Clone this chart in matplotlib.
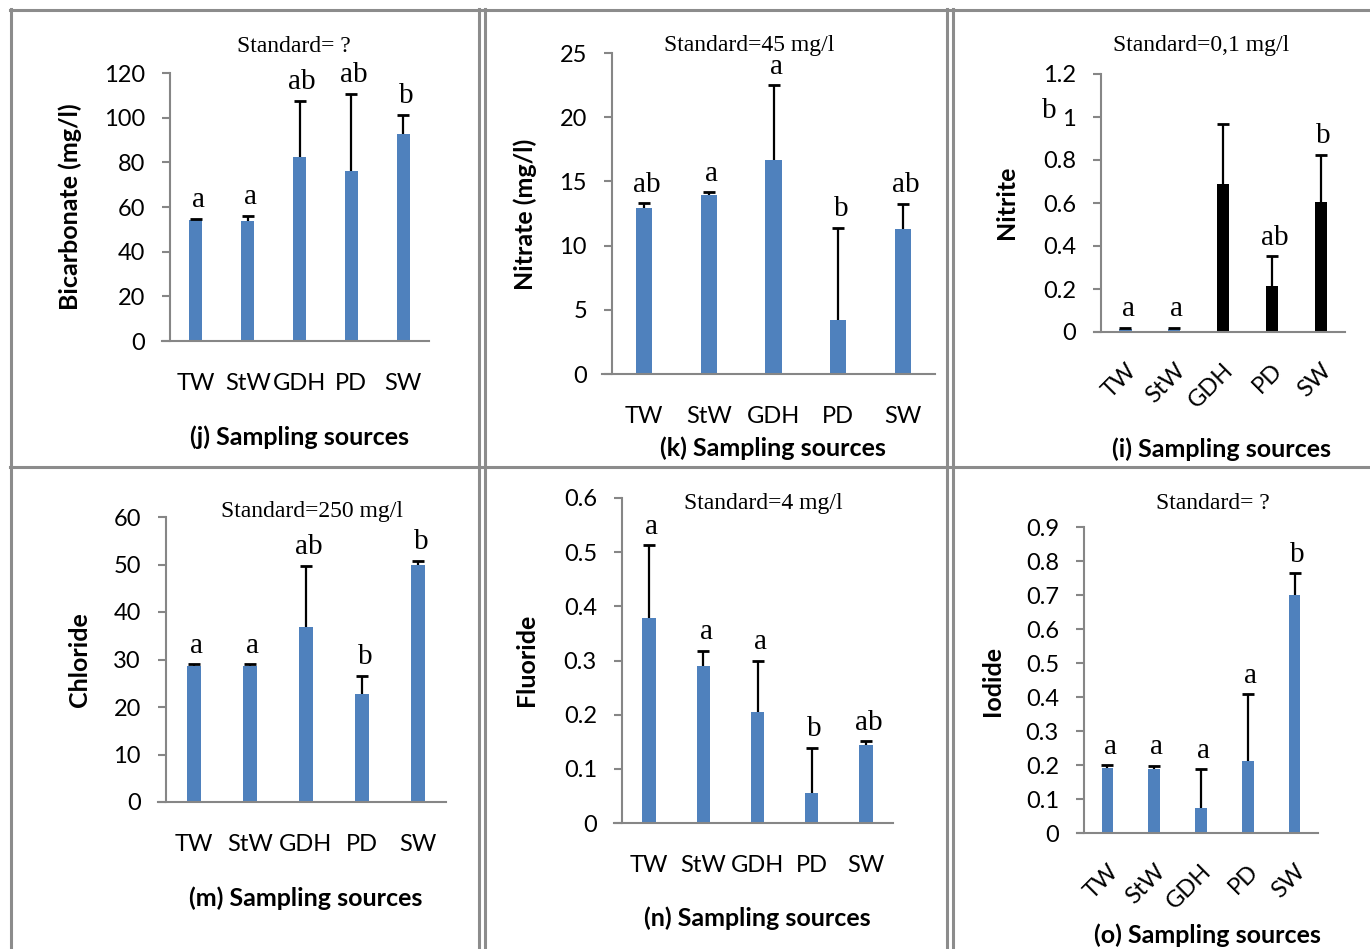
import numpy as np
import matplotlib
matplotlib.use('Agg')
import matplotlib.pyplot as plt
from matplotlib.lines import Line2D
from matplotlib.ticker import MultipleLocator, FuncFormatter

# ****** Data ******
categories = ['TW', 'StW', 'GDH', 'PD', 'SW']

bicarbonate = [54.2, 53.9, 82.5, 76.1, 92.7]
bicarbonate_err = [0.6, 2.1, 25.0, 34.5, 8.6]
bicarbonate_letters = ['a', 'a', 'ab', 'ab', 'b']

nitrate = [12.95, 13.97, 16.67, 4.2, 11.27]
nitrate_err = [0.35, 0.2, 5.8, 7.2, 1.97]
nitrate_letters = ['ab', 'a', 'a', 'b', 'ab']

nitrite = [0.012, 0.012, 0.688, 0.214, 0.603]
nitrite_err = [0.008, 0.008, 0.279, 0.139, 0.22]
nitrite_letters = ['a', 'a', '', 'ab', 'b']

chloride = [28.6, 28.6, 36.8, 22.7, 50.0]
chloride_err = [0.4, 0.4, 12.9, 3.9, 0.8]
chloride_letters = ['a', 'a', 'ab', 'b', 'b']

fluoride = [0.379, 0.29, 0.205, 0.055, 0.144]
fluoride_err = [0.134, 0.028, 0.095, 0.084, 0.007]
fluoride_letters = ['a', 'a', 'a', 'b', 'ab']

iodide = [0.19, 0.187, 0.073, 0.212, 0.70]
iodide_err = [0.009, 0.011, 0.114, 0.196, 0.064]
iodide_letters = ['a', 'a', 'a', 'a', 'b']

# ****** Style ******
W, H = 1370, 949
BLUE = '#4F81BD'
AXIS_GRAY = '#868686'
BORDER_GRAY = '#8c8c8c'
SANS = 'Lato'
SERIF = 'Liberation Serif'

fig = plt.figure(figsize=(W / 100, H / 100), dpi=100)


def fx(px):
    return px / W


def fy(py):
    return 1 - py / H


def num_fmt(v, pos):
    return '%g' % round(v, 3)


def make_panel(box, values, errors, letters, ymax, step, ylabel, xlabel, title,
               title_xy, ylabel_xy, xlabel_xy, rotate=False, colors=None):
    left, top, right, bottom = box
    ax = fig.add_axes([fx(left), fy(bottom), fx(right) - fx(left), fy(top) - fy(bottom)])
    x = np.arange(len(categories))
    if colors is None:
        colors = [BLUE] * len(categories)
    ax.bar(x, values, width=0.25, color=colors, zorder=2)
    _, caplines, _ = ax.errorbar(x, values, yerr=[np.zeros(len(values)), errors], fmt='none',
                                 ecolor='black', elinewidth=1.6, capsize=4.6, capthick=2,
                                 zorder=3)
    # only the upper cap is drawn in the original
    for cl in caplines:
        if np.allclose(cl.get_ydata(), values):
            cl.set_visible(False)
    for xi, v, e, lab in zip(x, values, errors, letters):
        if lab:
            ax.annotate(lab, (xi, v + e), xytext=(2, 4), textcoords='offset points',
                        ha='center', va='bottom', fontsize=21, family=SERIF)

    ax.set_xlim(-0.5, len(categories) - 0.5)
    ax.set_ylim(0, ymax)
    ax.yaxis.set_major_locator(MultipleLocator(step))
    ax.yaxis.set_major_formatter(FuncFormatter(num_fmt))
    ax.set_xticks(x)
    if rotate:
        ax.set_xticklabels(categories, rotation=45, ha='right', rotation_mode='anchor')
        ax.tick_params(axis='x', length=0, pad=20)
    else:
        ax.set_xticklabels(categories)
        ax.tick_params(axis='x', length=0, pad=23)
    ax.tick_params(axis='y', length=6, width=1.5, color=AXIS_GRAY, pad=12)
    ax.tick_params(labelsize=17)
    for lab in ax.get_xticklabels() + ax.get_yticklabels():
        lab.set_family(SANS)

    for s in ['top', 'right']:
        ax.spines[s].set_visible(False)
    for s in ['left', 'bottom']:
        ax.spines[s].set_color(AXIS_GRAY)
        ax.spines[s].set_linewidth(1.5)
    ax.spines['bottom'].set_bounds(-0.5 - 0.03 * 5, len(categories) - 0.5)
    ax.patch.set_alpha(0)

    fig.text(fx(title_xy[0]), fy(title_xy[1]), title, ha='center', va='center',
             fontsize=17, family=SERIF)
    fig.text(fx(ylabel_xy[0]), fy(ylabel_xy[1]), ylabel, ha='center', va='center',
             rotation=90, fontsize=18, fontweight='bold', family=SANS)
    fig.text(fx(xlabel_xy[0]), fy(xlabel_xy[1]), xlabel, ha='center', va='center',
             fontsize=18, fontweight='bold', family=SANS)
    return ax


# --- Panel borders
for py in [10, 467]:
    fig.add_artist(Line2D([fx(10), fx(1370)], [fy(py), fy(py)], color=BORDER_GRAY, lw=2.2))
for px in [11, 479, 485, 947, 953]:
    fig.add_artist(Line2D([fx(px), fx(px)], [fy(9), fy(949)], color=BORDER_GRAY, lw=2.2))

# --- Top row
make_panel((170, 73, 429, 341), bicarbonate, bicarbonate_err, bicarbonate_letters, 120, 20,
           'Bicarbonate (mg/l)', '(j) Sampling sources', 'Standard= ?',
           (294, 46), (70, 207), (300, 437))

make_panel((612, 53, 935, 374), nitrate, nitrate_err, nitrate_letters, 25, 5,
           'Nitrate (mg/l)', '(k) Sampling sources', 'Standard=45 mg/l',
           (749, 46), (525, 214), (773, 448))

nitrite_colors = [BLUE, BLUE, 'black', 'black', 'black']
ax_i = make_panel((1101, 74, 1345, 332), nitrite, nitrite_err, nitrite_letters, 1.2, 0.2,
                  'Nitrite', '(i) Sampling sources', 'Standard=0,1 mg/l',
                  (1201, 46), (1007, 202), (1222, 449), rotate=True, colors=nitrite_colors)
# misplaced letter of the GDH bar, sitting beside the y axis
ax_i.annotate('b', (-0.21, 0.83), xycoords='axes fraction', ha='center', va='baseline',
              fontsize=21, family=SERIF)

# --- Bottom row
make_panel((166, 517, 446, 802), chloride, chloride_err, chloride_letters, 60, 10,
           'Chloride', '(m) Sampling sources', 'Standard=250 mg/l',
           (312, 512), (79, 660), (306, 898))

make_panel((622, 498, 893, 823), fluoride, fluoride_err, fluoride_letters, 0.6, 0.1,
           'Fluoride', '(n) Sampling sources', 'Standard=4 mg/l',
           (763, 503), (527, 660), (757, 918))

make_panel((1084, 527, 1318, 833), iodide, iodide_err, iodide_letters, 0.9, 0.1,
           'Iodide', '(o) Sampling sources', 'Standard= ?',
           (1213, 504), (992, 681), (1207, 935), rotate=True)

fig.savefig('out.png', dpi=100)
